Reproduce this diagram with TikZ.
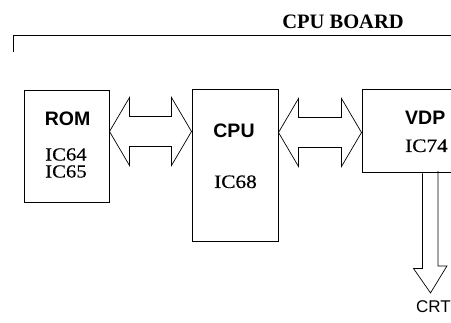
\documentclass[tikz,border=0pt]{standalone}
\usepackage{fontspec}
\setmainfont{Liberation Serif}
\setsansfont{Liberation Sans}
\newfontfamily\icfont[FakeStretch=1.12,FakeBold=0.5]{Liberation Serif}
\usetikzlibrary{calc}
\begin{document}
\begin{tikzpicture}[x=1pt,y=-1pt,
    chip/.style={draw,line width=1pt,inner sep=0pt},
    bus/.style={line width=.7pt,line join=miter},
    tag/.style={font=\fontsize{19.5}{20}\selectfont\sffamily\bfseries,inner sep=0pt,anchor=base},
    part/.style={font=\fontsize{19}{17}\selectfont\icfont,inner sep=0pt,anchor=base}]
    \useasboundingbox[clip] (0,0) rectangle (451,323);
    % board outline
    \draw[line width=.8pt] (13,52)--(13,35)--(460,35);
    \node[font=\fontsize{20.5}{22}\selectfont\bfseries,inner sep=0pt,anchor=base] (board) at (343,29) {CPU BOARD};
    % chips
    \node[chip,minimum width=85pt,minimum height=112pt] (rom) at (66.5,147) {};
    \node[chip,minimum width=86pt,minimum height=152pt] (cpu) at (235,166) {};
    \node[chip,minimum width=100pt,minimum height=83pt] (vdp) at (412,131.5) {};
    \node[tag] (romname) at (67.5,126) {ROM};
    \node[part,font=\fontsize{18.5}{17}\selectfont\icfont,align=center,anchor=center] (romic) at (66,163) {IC64\\IC65};
    \node[tag] (cpuname) at (234,138) {CPU};
    \node[part] (cpuic) at (235.5,188) {IC68};
    \node[tag,anchor=base west] (vdpname) at (405,125) {VDP};
    \node[part,anchor=base west] (vdpic) at (405,152) {IC74};
    \node[font=\fontsize{17}{18}\selectfont\sffamily,inner sep=0pt,anchor=base] (crt) at (433.5,313) {CRT};
    % buses
    \path (rom.north east) ++(0,41) coordinate (t1);
    \path (cpu.north west) ++(0,42) coordinate (t2);
    \path (cpu.north east) ++(0,43) coordinate (t3);
    \path (vdp.north west) ++(0,43) coordinate (t4);
    \foreach \a/\b in {t1/t2,t3/t4}
    \draw[bus] (\a) -- ++(20,-34) -- ++(0,19) -- ($(\b)+(-20,-15)$) -- ++(0,-19) -- (\b)
      -- ++(-20,34) -- ++(0,-19) -- ($(\a)+(20,15)$) -- ++(0,19) -- cycle;
    \path (vdp.south west) ++(61,0) coordinate (d1);
    \path (crt.north) ++(-3,-8) coordinate (d2);
    \draw[bus] (d1) -- ++(0,95) -- ++(-9,0) -- (d2) -- ++(16.5,-27) -- ++(-9,0) -- ++(0,-95);
  \end{tikzpicture}
\end{document}
